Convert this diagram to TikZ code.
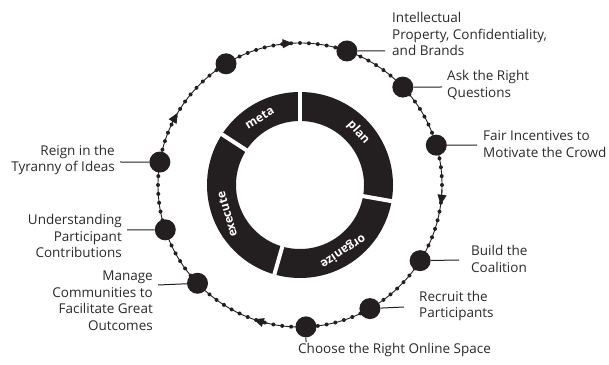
\documentclass[tikz,border=0pt]{standalone}
\usepackage{fontspec}
\setmainfont{Open Sans}
\usetikzlibrary{arrows.meta,calc}
\definecolor{ink}{HTML}{231F20}
\definecolor{txt}{HTML}{2A2A2A}
\begin{document}
\begin{tikzpicture}[x=1pt,y=1pt,
  stage/.style={circle,fill=ink,minimum size=21pt,inner sep=0pt},
  lead/.style={draw=ink,line width=1pt},
  lbl/.style={font=\fontsize{13.5}{16.5}\selectfont,text=txt,inner sep=0pt},
  ringtxt/.style={font=\fontsize{12}{14}\selectfont\bfseries,text=white,inner sep=0pt},
  flow/.style={draw=ink,line width=0.9pt,-{Triangle[length=10pt,width=9pt]}}
  ]
\useasboundingbox (0,0) rectangle (609,364);
\coordinate (C) at (300,179);
% inner ring
\fill[ink,even odd rule] (C) circle[radius=93pt] (C) circle[radius=64pt];
\foreach \a in {90,147,254,350} \draw[white,line width=4pt] (C) ++(\a:60) -- ++(\a:37);
\node[ringtxt,rotate=-48] (rPlan) at ($(C)+(42:78.5)$) {plan};
\node[ringtxt,rotate=31] (rMeta) at ($(C)+(121:78.5)$) {meta};
\node[ringtxt,rotate=106] (rExec) at ($(C)+(202:78.5)$) {execute};
\node[ringtxt,rotate=-147] (rOrg) at ($(C)+(-57:78.5)$) {organize};
% outer cycle
\draw[ink,line width=0.9pt] (C) circle[radius=142pt];
\foreach \a in {0,3.6,...,356.4} \fill[ink] (C) ++(\a:142) circle[radius=2pt];
\foreach \a in {93,149.5,-8,251}
  \draw[flow] (C) ++(\a+6:142) arc[start angle=\a+6,end angle=\a,radius=142pt];
% stage nodes
\path (C) ++(70.7:142) node[stage] (nIP) {};
\path (C) ++(43.6:142) node[stage] (nAsk) {};
\path (C) ++(16.3:142) node[stage] (nFair) {};
\path (C) ++(-32.2:142) node[stage] (nBuild) {};
\path (C) ++(-60.5:142) node[stage] (nRec) {};
\path (C) ++(-87.6:142) node[stage] (nCh) {};
\path (C) ++(223.8:142) node[stage] (nMan) {};
\path (C) ++(198.4:142) node[stage] (nUnd) {};
\path (C) ++(170.7:142) node[stage] (nReign) {};
\path (C) ++(121.4:142) node[stage] (nTop) {};
% labels
\node[lbl,anchor=west,align=left] (tIP) at (392,330) {Intellectual\\Property, Confidentiality,\\and Brands};
\node[lbl,anchor=west,align=left] (tAsk) at (447,279) {Ask the Right\\Questions};
\node[lbl,anchor=west,align=left] (tFair) at (483,220) {Fair Incentives to\\Motivate the Crowd};
\node[lbl,anchor=west,align=left] (tBuild) at (471,105) {Build the\\Coalition};
\node[lbl,anchor=west,align=left] (tRec) at (419,58) {Recruit the\\Participants};
\node[lbl,anchor=west,align=left] (tCh) at (298,14) {Choose the Right Online Space};
\node[lbl,anchor=east,align=right] (tReign) at (115,204) {Reign in the\\Tyranny of Ideas};
\node[lbl,anchor=east,align=right] (tUnd) at (122,128) {Understanding\\Participant\\Contributions};
\node[lbl,anchor=east,align=right] (tMan) at (153,63.5) {Manage\\Communities to\\Facilitate Great\\Outcomes};
% leader ends
\coordinate (eIP) at (385,313);
\coordinate (eAsk) at (442,277);
\coordinate (eFair) at (477,219);
\coordinate (eBuild) at (459,104);
\coordinate (eRec) at (404,57);
\coordinate (eCh) at (306,22);
\coordinate (eReign) at (120,202);
\coordinate (eUnd) at (127,134);
\coordinate (eMan) at (158,79);
\draw[lead] (nIP) -- (eIP);
\draw[lead] (nAsk) -- (eAsk);
\draw[lead] (nFair) -- (eFair);
\draw[lead] (nBuild) -- (eBuild);
\draw[lead] (nRec) -- (eRec);
\draw[lead] (nCh) -- (eCh);
\draw[lead] (nReign) -- (eReign);
\draw[lead] (nUnd) -- (eUnd);
\draw[lead] (nMan) -- (eMan);
\end{tikzpicture}
\end{document}
